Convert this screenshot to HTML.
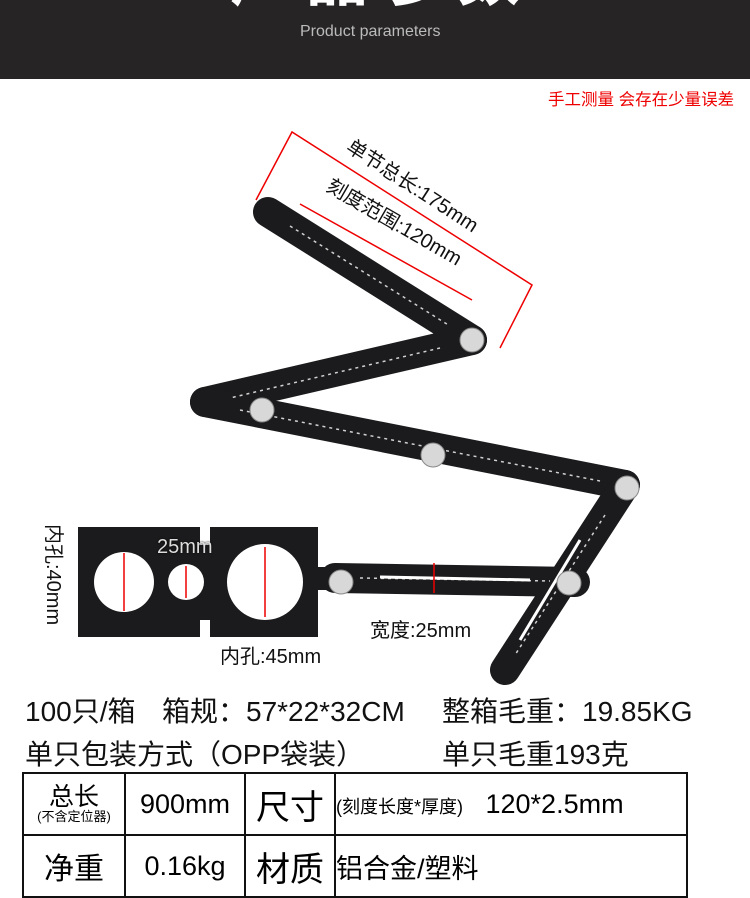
<!DOCTYPE html>
<html><head><meta charset="utf-8"><style>
body{margin:0;width:750px;height:861px;overflow:hidden;background:#fff;font-family:"Liberation Sans","Noto Sans CJK SC",sans-serif;position:relative}
.hdr{position:absolute;left:0;top:0;width:750px;height:79px;background:#262425;overflow:hidden}
.t{position:absolute;white-space:nowrap;color:#111}
table{position:absolute;left:22px;top:772px;border-collapse:collapse}
td{border:2px solid #111;height:60px;text-align:center;font-size:27px;padding:0}
</style></head><body>
<div class="hdr">
<div class="t" style="left:230px;top:-72px;font-size:62px;font-weight:bold;color:#fff;letter-spacing:14px">产品参数</div>
<div class="t" style="left:300px;top:23px;font-size:16px;color:#bbb">Product parameters</div>
</div>
<div class="t" style="left:548px;top:86px;font-size:16.5px;color:#e00">手工测量 会存在少量误差</div>
<svg style="position:absolute;left:0;top:0" width="750" height="700">
<g stroke="#1b1b1d" stroke-width="30" stroke-linecap="round" fill="none">
<line x1="268" y1="212" x2="472" y2="340"/>
<line x1="472" y1="340" x2="205" y2="402"/>
<line x1="205" y1="402" x2="625" y2="485"/>
<line x1="625" y1="485" x2="505" y2="670"/>
<line x1="335" y1="578" x2="575" y2="582"/>
</g>
<g stroke="#fff" stroke-width="1.5" stroke-dasharray="3 4" opacity=".8">
<line x1="290" y1="226" x2="450" y2="326"/>
<line x1="440" y1="348" x2="230" y2="398"/>
<line x1="240" y1="410" x2="600" y2="481"/>
<line x1="605" y1="515" x2="515" y2="655"/>
<line x1="360" y1="578" x2="550" y2="581"/>
</g>
<g stroke="#fff" stroke-width="3"><line x1="380" y1="577" x2="530" y2="580"/><line x1="580" y1="540" x2="520" y2="640"/></g>
<path d="M78 527H200V545H210V527H318V567H335V590H318V637H210V620H200V637H78Z" fill="#1b1b1d"/>
<circle cx="124" cy="582" r="30" fill="#fff"/><circle cx="186" cy="582" r="18" fill="#fff"/><circle cx="265" cy="582" r="38" fill="#fff"/>
<g fill="#d8d8d8" stroke="#888" stroke-width="1">
<circle cx="472" cy="340" r="12"/><circle cx="262" cy="410" r="12"/><circle cx="433" cy="455" r="12"/>
<circle cx="627" cy="488" r="12"/><circle cx="569" cy="583" r="12"/><circle cx="341" cy="582" r="12"/>
</g>
<g stroke="#e00" stroke-width="1.5" fill="none">
<path d="M256 200L292 132L532 285L500 348"/>
<path d="M300 204L472 300"/>
<line x1="124" y1="553" x2="124" y2="611"/><line x1="186" y1="566" x2="186" y2="598"/><line x1="265" y1="547" x2="265" y2="617"/>
<line x1="434" y1="563" x2="434" y2="593"/>
</g>
<text x="345" y="150" font-size="20" transform="rotate(33 345 150)" fill="#111">单节总长:175mm</text>
<text x="325" y="190" font-size="20" transform="rotate(30 325 190)" fill="#111">刻度范围:120mm</text>
</svg>
<div class="t" style="left:157px;top:536px;font-size:20px;color:#ddd;text-shadow:0 0 2px #000">25mm</div>
<div class="t" style="left:370px;top:614px;font-size:20px">宽度:25mm</div>
<div class="t" style="left:220px;top:640px;font-size:20px">内孔:45mm</div>
<div class="t" style="left:70px;top:524px;font-size:20px;transform:rotate(90deg);transform-origin:0 0">内孔:40mm</div>
<div class="t" style="left:25px;top:690px;font-size:28px">100只/箱</div>
<div class="t" style="left:162px;top:690px;font-size:28px">箱规：57*22*32CM</div>
<div class="t" style="left:442px;top:690px;font-size:28px">整箱毛重：19.85KG</div>
<div class="t" style="left:25px;top:733px;font-size:28px">单只包装方式（OPP袋装）</div>
<div class="t" style="left:442px;top:733px;font-size:28px">单只毛重193克</div>
<table>
<tr><td style="width:100px;line-height:1"><div style="font-size:25px">总长</div><div style="font-size:13px">(不含定位器)</div></td><td style="width:118px">900mm</td><td style="width:88px;font-size:34px">尺寸</td><td style="width:350px;text-align:left"><span style="font-size:18px">(刻度长度*厚度)</span> &nbsp;&nbsp;120*2.5mm</td></tr>
<tr><td style="font-size:30px">净重</td><td>0.16kg</td><td style="font-size:34px">材质</td><td style="text-align:left">铝合金/塑料</td></tr>
</table>
</body></html>
